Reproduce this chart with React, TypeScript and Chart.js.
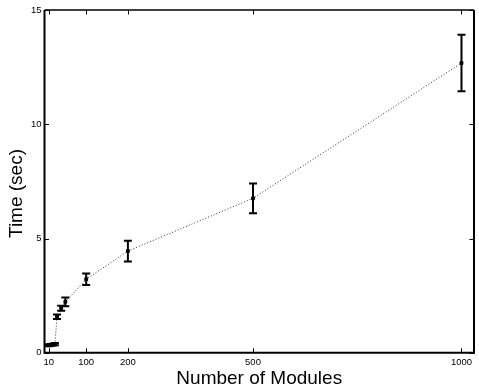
import React, { useEffect, useRef } from 'react';
import { Chart, registerables } from 'chart.js';

Chart.register(...registerables);

const modules = [10, 15, 20, 25, 30, 40, 50, 100, 200, 500, 1000];
const timeMean = [0.33, 0.35, 0.36, 0.38, 1.58, 1.95, 2.23, 3.22, 4.45, 6.76, 12.68];
const timeErr = [0.04, 0.04, 0.04, 0.05, 0.1, 0.11, 0.19, 0.25, 0.45, 0.65, 1.24];
const xTickValues = [10, 100, 200, 500, 1000];
const yTickValues = [0, 5, 10, 15];
const xTitle = 'Number of Modules';
const yTitle = 'Time (sec)';

const FONT = '"Liberation Sans", Arial, Helvetica, sans-serif';

export default function App() {
  const ref = useRef<HTMLCanvasElement>(null);

  useEffect(() => {
    document.body.style.margin = '0';
    const canvas = ref.current;
    if (!canvas) return;

    const matlabPlugin = {
      id: 'matlabPlugin',
      afterDatasetsDraw(chart: any) {
        const { ctx, scales } = chart;
        const x = scales.x;
        const y = scales.y;
        ctx.save();
        ctx.strokeStyle = '#000';
        ctx.lineWidth = 2;
        modules.forEach((m, i) => {
          const px = x.getPixelForValue(m);
          const top = y.getPixelForValue(timeMean[i] + timeErr[i]);
          const bot = y.getPixelForValue(timeMean[i] - timeErr[i]);
          ctx.beginPath();
          ctx.moveTo(px, top);
          ctx.lineTo(px, bot);
          ctx.moveTo(px - 4, top);
          ctx.lineTo(px + 4, top);
          ctx.moveTo(px - 4, bot);
          ctx.lineTo(px + 4, bot);
          ctx.stroke();
        });
        ctx.restore();
      },
      afterDraw(chart: any) {
        const { ctx, chartArea: a, scales } = chart;
        const x = scales.x;
        const y = scales.y;
        ctx.save();
        // inward ticks
        ctx.strokeStyle = '#000';
        ctx.lineWidth = 1;
        const tl = 4.5;
        ctx.beginPath();
        xTickValues.forEach((v) => {
          const px = Math.round(x.getPixelForValue(v)) + 0.5;
          ctx.moveTo(px, a.bottom);
          ctx.lineTo(px, a.bottom - tl);
          ctx.moveTo(px, a.top);
          ctx.lineTo(px, a.top + tl);
        });
        yTickValues.forEach((v) => {
          const py = Math.round(y.getPixelForValue(v)) + 0.5;
          ctx.moveTo(a.left, py);
          ctx.lineTo(a.left + tl, py);
          ctx.moveTo(a.right, py);
          ctx.lineTo(a.right - tl, py);
        });
        ctx.stroke();
        // box
        ctx.lineWidth = 2;
        ctx.beginPath();
        ctx.moveTo(a.left, a.top);
        ctx.lineTo(a.left, a.bottom);
        ctx.lineTo(a.right, a.bottom);
        ctx.lineTo(a.right, a.top);
        ctx.stroke();
        ctx.lineWidth = 1.5;
        ctx.beginPath();
        ctx.moveTo(a.left, a.top);
        ctx.lineTo(a.right, a.top);
        ctx.stroke();
        // y title
        ctx.fillStyle = '#000';
        ctx.font = `19px ${FONT}`;
        ctx.textAlign = 'center';
        ctx.textBaseline = 'middle';
        ctx.translate(17, 193.5);
        ctx.rotate(-Math.PI / 2);
        ctx.fillText(yTitle, 0, 0);
        ctx.restore();
      },
    };

    const chart = new Chart(canvas, {
      type: 'line',
      data: {
        datasets: [
          {
            data: modules.map((m, i) => ({ x: m, y: timeMean[i] })),
            borderColor: '#333',
            borderWidth: 1,
            borderDash: [1, 2],
            pointStyle: 'rect',
            pointRadius: 2,
            pointBackgroundColor: '#000',
            pointBorderColor: '#000',
            pointBorderWidth: 1,
            tension: 0,
            fill: false,
          },
        ],
      },
      options: {
        responsive: false,
        animation: false,
        events: [],
        layout: { padding: { top: 10, right: 1.2, left: 0, bottom: 0 } },
        plugins: {
          legend: { display: false },
          tooltip: { enabled: false },
          title: { display: false },
        },
        scales: {
          x: {
            type: 'linear',
            min: 0,
            max: 1030,
            grid: { display: false, drawTicks: false },
            border: { display: false },
            afterBuildTicks: (scale: any) => {
              scale.ticks = xTickValues.map((v) => ({ value: v }));
            },
            afterFit: (scale: any) => {
              scale.height = 35.2;
            },
            ticks: {
              autoSkip: false,
              maxRotation: 0,
              minRotation: 0,
              padding: 3.5,
              color: '#000',
              font: { family: FONT, size: 9.5 },
              callback: (v: any) => String(v),
            },
            title: {
              display: true,
              text: xTitle,
              color: '#000',
              font: { family: FONT, size: 19, lineHeight: 1 },
              padding: 0,
            },
          },
          y: {
            type: 'linear',
            min: 0,
            max: 15,
            grid: { display: false, drawTicks: false },
            border: { display: false },
            afterBuildTicks: (scale: any) => {
              scale.ticks = yTickValues.map((v) => ({ value: v }));
            },
            afterFit: (scale: any) => {
              scale.width = 44.5;
            },
            ticks: {
              padding: 3,
              color: '#000',
              font: { family: FONT, size: 9.5 },
              callback: (v: any) => String(v),
            },
          },
        },
      },
      plugins: [matlabPlugin],
    } as any);

    return () => chart.destroy();
  }, []);

  return (
    <div style={{ position: 'absolute', left: 0, top: 0, width: 479, height: 388, background: '#fff' }}>
      <canvas ref={ref} width={479} height={388} style={{ width: 479, height: 388, display: 'block' }} />
    </div>
  );
}
